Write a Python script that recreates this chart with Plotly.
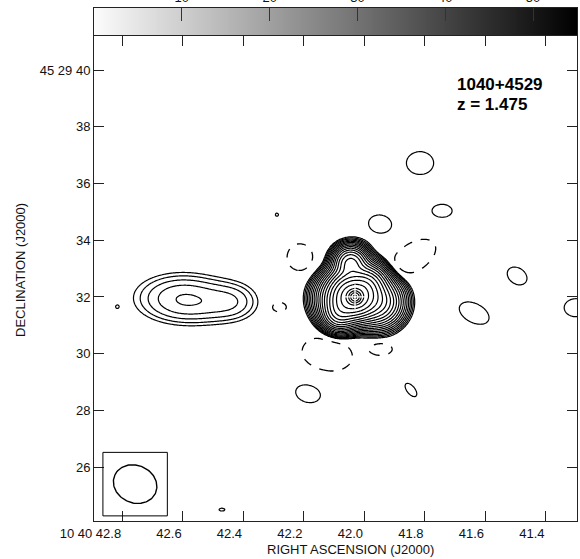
import numpy as np
import plotly.graph_objects as go

# ---- coordinate frame: RA seconds after 10h40m, Dec arcsec after +45d29m ----
dec_deg = 45.0 + 29 / 60 + 32 / 3600
ra_scale = 15.0 * np.cos(np.radians(dec_deg))   # arcsec of sky per second of RA

ra_range = [42.893, 41.296]
dec_range = [24.10, 41.20]
ra_ticks = [42.8, 42.6, 42.4, 42.2, 42.0, 41.8, 41.6, 41.4]
ra_ticktext = ["10 40 42.8", "42.6", "42.4", "42.2", "42.0", "41.8", "41.6", "41.4"]
dec_ticks = [40, 38, 36, 34, 32, 30, 28, 26]
dec_ticktext = ["45 29 40", "38", "36", "34", "32", "30", "28", "26"]

# ---- contour levels: base level times sqrt(2)^k, plus -base (dashed) ----
base_level = 0.1       # mJy/beam
n_levels = 30

# ---- Gaussian components of the map (peak mJy/beam, sigma arcsec, PA deg E of N) ----
core_ra, core_dec = 42.030, 32.00

# core and its bright skirt, given as offsets (arcsec) from the core position
core_east = [0.00, 0.00, 0.15, -0.45, -0.80, 0.52, 0.55, 0.42]
core_north = [0.00, 0.00, 1.20, 0.50, -0.18, -0.05, -0.60, 0.53]
core_peak = [50.0, 100.0, 10.0, 10.0, 10.0, 10.0, 10.0, 3.0]
core_sig = [0.40, 0.12, 0.30, 0.35, 0.42, 0.42, 0.30, 0.32]

# western lobe and faint field sources / noise peaks (absolute positions)
comp_ra = [42.600, 42.570, 42.430,
           41.815, 41.742, 41.947, 41.494, 41.636, 41.300, 42.185, 41.845,
           42.817, 42.288, 42.470,
           42.212, 42.281, 41.838, 42.122, 41.944]
comp_dec = [32.12, 31.60, 31.85,
            36.72, 35.03, 34.57, 32.74, 31.43, 31.62, 28.60, 28.72,
            31.65, 34.90, 24.50,
            33.40, 31.64, 33.40, 29.99, 30.16]
comp_peak = [0.29, 0.20, 0.18,
             0.135, 0.135, 0.135, 0.135, 0.135, 0.135, 0.135, 0.135,
             0.080, 0.104, 0.106,
             -0.25, -0.25, -0.25, -0.25, -0.25]
comp_sig_maj = [1.05, 1.10, 0.60,
                0.61, 0.45, 0.52, 0.48, 0.72, 0.52, 0.57, 0.36,
                0.12, 0.20, 0.30,
                0.35, 0.19, 0.65, 0.65, 0.29]
comp_sig_min = [0.50, 0.45, 0.45,
                0.52, 0.30, 0.41, 0.36, 0.43, 0.41, 0.41, 0.18,
                0.12, 0.20, 0.15,
                0.33, 0.13, 0.37, 0.45, 0.16]
comp_pa = [90, 90, 90,
           90, 90, 80, 54, 62, 90, 75, 38,
           0, 0, 90,
           0, 90, -57, 80, 90]

# restoring beam (FWHM arcsec, PA deg) drawn in the corner box
beam_ra, beam_dec = 42.757, 25.40
beam_maj, beam_min, beam_pa = 1.55, 1.32, 65
beam_box_half = 1.12

# grey-scale wedge range (mJy/beam)
wedge_min, wedge_max = 0, 55
wedge_ticks = [10, 20, 30, 40, 50]

# ---- evaluate the map on a grid ----
ra_grid = np.linspace(42.90, 41.28, 420)
dec_grid = np.linspace(24.0, 41.3, 440)
RA, DEC = np.meshgrid(ra_grid, dec_grid)
image = np.zeros_like(RA)


def add_gaussian(ra0, de0, amp, smaj, smin, pa):
    east = (RA - ra0) * ra_scale
    north = DEC - de0
    t = np.radians(pa)
    u = east * np.sin(t) + north * np.cos(t)
    v = east * np.cos(t) - north * np.sin(t)
    return amp * np.exp(-0.5 * ((u / smaj) ** 2 + (v / smin) ** 2))


for de, dn, amp, s in zip(core_east, core_north, core_peak, core_sig):
    image += add_gaussian(core_ra + de / ra_scale, core_dec + dn, amp, s, s, 0)
for args in zip(comp_ra, comp_dec, comp_peak, comp_sig_maj, comp_sig_min, comp_pa):
    image += add_gaussian(*args)

# contour in units of sqrt(2) steps above the base level
with np.errstate(divide="ignore", invalid="ignore"):
    pos_steps = np.where(image > base_level / 8,
                         2 * np.log2(np.clip(image, 1e-12, None) / base_level), -6.0)
    neg_steps = np.where(-image > base_level / 8,
                         2 * np.log2(np.clip(-image, 1e-12, None) / base_level), -6.0)
pos_steps = np.round(pos_steps, 3)
neg_steps = np.round(neg_steps, 3)

black = [[0, "black"], [1, "black"]]
fig = go.Figure()

fig.add_trace(go.Contour(
    x=ra_grid, y=dec_grid, z=pos_steps,
    contours=dict(coloring="lines", start=0, end=n_levels, size=1),
    colorscale=black, showscale=False, line=dict(width=1.2, color="black"),
    hoverinfo="skip",
))
fig.add_trace(go.Contour(
    x=ra_grid, y=dec_grid, z=neg_steps,
    contours=dict(coloring="lines", start=0, end=0.5, size=1),
    colorscale=black, showscale=False, line=dict(width=1.3, color="black", dash="dash"),
    hoverinfo="skip",
))

# optical position marker
fig.add_trace(go.Scatter(
    x=[core_ra], y=[core_dec], mode="markers",
    marker=dict(symbol="cross-thin", size=18, line=dict(color="white", width=1.3)),
    hoverinfo="skip",
))

# restoring beam ellipse
th = np.linspace(0, 2 * np.pi, 120)
bu = 0.5 * beam_maj * np.cos(th)
bv = 0.5 * beam_min * np.sin(th)
bp = np.radians(beam_pa)
b_east = bu * np.sin(bp) + bv * np.cos(bp)
b_north = bu * np.cos(bp) - bv * np.sin(bp)
fig.add_trace(go.Scatter(
    x=beam_ra + b_east / ra_scale, y=beam_dec + b_north, mode="lines",
    line=dict(color="black", width=1.4), hoverinfo="skip",
))
fig.add_shape(type="rect", xref="x", yref="y",
              x0=beam_ra + beam_box_half / ra_scale, x1=beam_ra - beam_box_half / ra_scale,
              y0=beam_dec - beam_box_half, y1=beam_dec + beam_box_half,
              line=dict(color="black", width=1))

# grey-scale wedge along the top
wedge = np.linspace(wedge_min, wedge_max, 256)
fig.add_trace(go.Heatmap(
    x=wedge, y=[0], z=[wedge], xaxis="x2", yaxis="y2",
    colorscale=[[0, "#fcfcfc"], [1, "#000000"]], zmin=wedge_min, zmax=wedge_max,
    showscale=False, hoverinfo="skip",
))

W, H = 580, 559
px_left, px_right, px_top, px_bottom = 94, 577, 36, 521
tick_font = dict(family="Liberation Sans, Arial, sans-serif", size=13, color="#111")
axis_style = dict(showline=True, linecolor="#222", linewidth=1, showgrid=False,
                  zeroline=False, ticks="inside", ticklen=10, tickcolor="#222",
                  tickwidth=1, mirror="ticks", automargin=False, tickfont=tick_font)

fig.update_layout(
    width=W, height=H, margin=dict(l=0, r=0, t=0, b=0, autoexpand=False),
    paper_bgcolor="white", plot_bgcolor="white", showlegend=False,
    font=dict(family="Liberation Sans, Arial, sans-serif", size=12, color="#111"),
    xaxis=dict(domain=[px_left / W, px_right / W], range=ra_range,
               tickvals=ra_ticks, ticktext=ra_ticktext,
               ticklabelposition="outside left", **axis_style),
    yaxis=dict(domain=[(H - px_bottom) / H, (H - px_top) / H], range=dec_range,
               tickvals=dec_ticks, ticktext=dec_ticktext, **axis_style),
    xaxis2=dict(domain=[px_left / W, px_right / W], anchor="y2", range=[wedge_min, wedge_max],
                tickvals=wedge_ticks, side="top", showline=True, mirror=True,
                linecolor="#222", ticks="inside", ticklen=13, tickcolor="#333",
                showgrid=False, zeroline=False, automargin=False, tickfont=tick_font),
    yaxis2=dict(domain=[(H - 35) / H, (H - 8) / H], anchor="x2", range=[-0.5, 0.5],
                showticklabels=False, ticks="", showline=True, mirror=True,
                linecolor="#222", showgrid=False, zeroline=False, automargin=False),
    annotations=[
        dict(text="<b>1040+4529</b>", x=455 / W, y=(H - 84.5) / H, xref="paper", yref="paper",
             xanchor="left", yanchor="middle", showarrow=False, font=dict(size=17, color="#000")),
        dict(text="<b>z = 1.475</b>", x=455 / W, y=(H - 104.5) / H, xref="paper", yref="paper",
             xanchor="left", yanchor="middle", showarrow=False, font=dict(size=17, color="#000")),
        dict(text="RIGHT ASCENSION (J2000)", x=350 / W, y=(H - 549) / H, xref="paper",
             yref="paper", xanchor="center", yanchor="middle", showarrow=False,
             font=dict(size=13)),
        dict(text="DECLINATION (J2000)", x=20 / W, y=(H - 270) / H, xref="paper",
             yref="paper", xanchor="center", yanchor="middle", showarrow=False,
             textangle=-90, font=dict(size=13)),
    ],
)

fig.write_html("out.html")
